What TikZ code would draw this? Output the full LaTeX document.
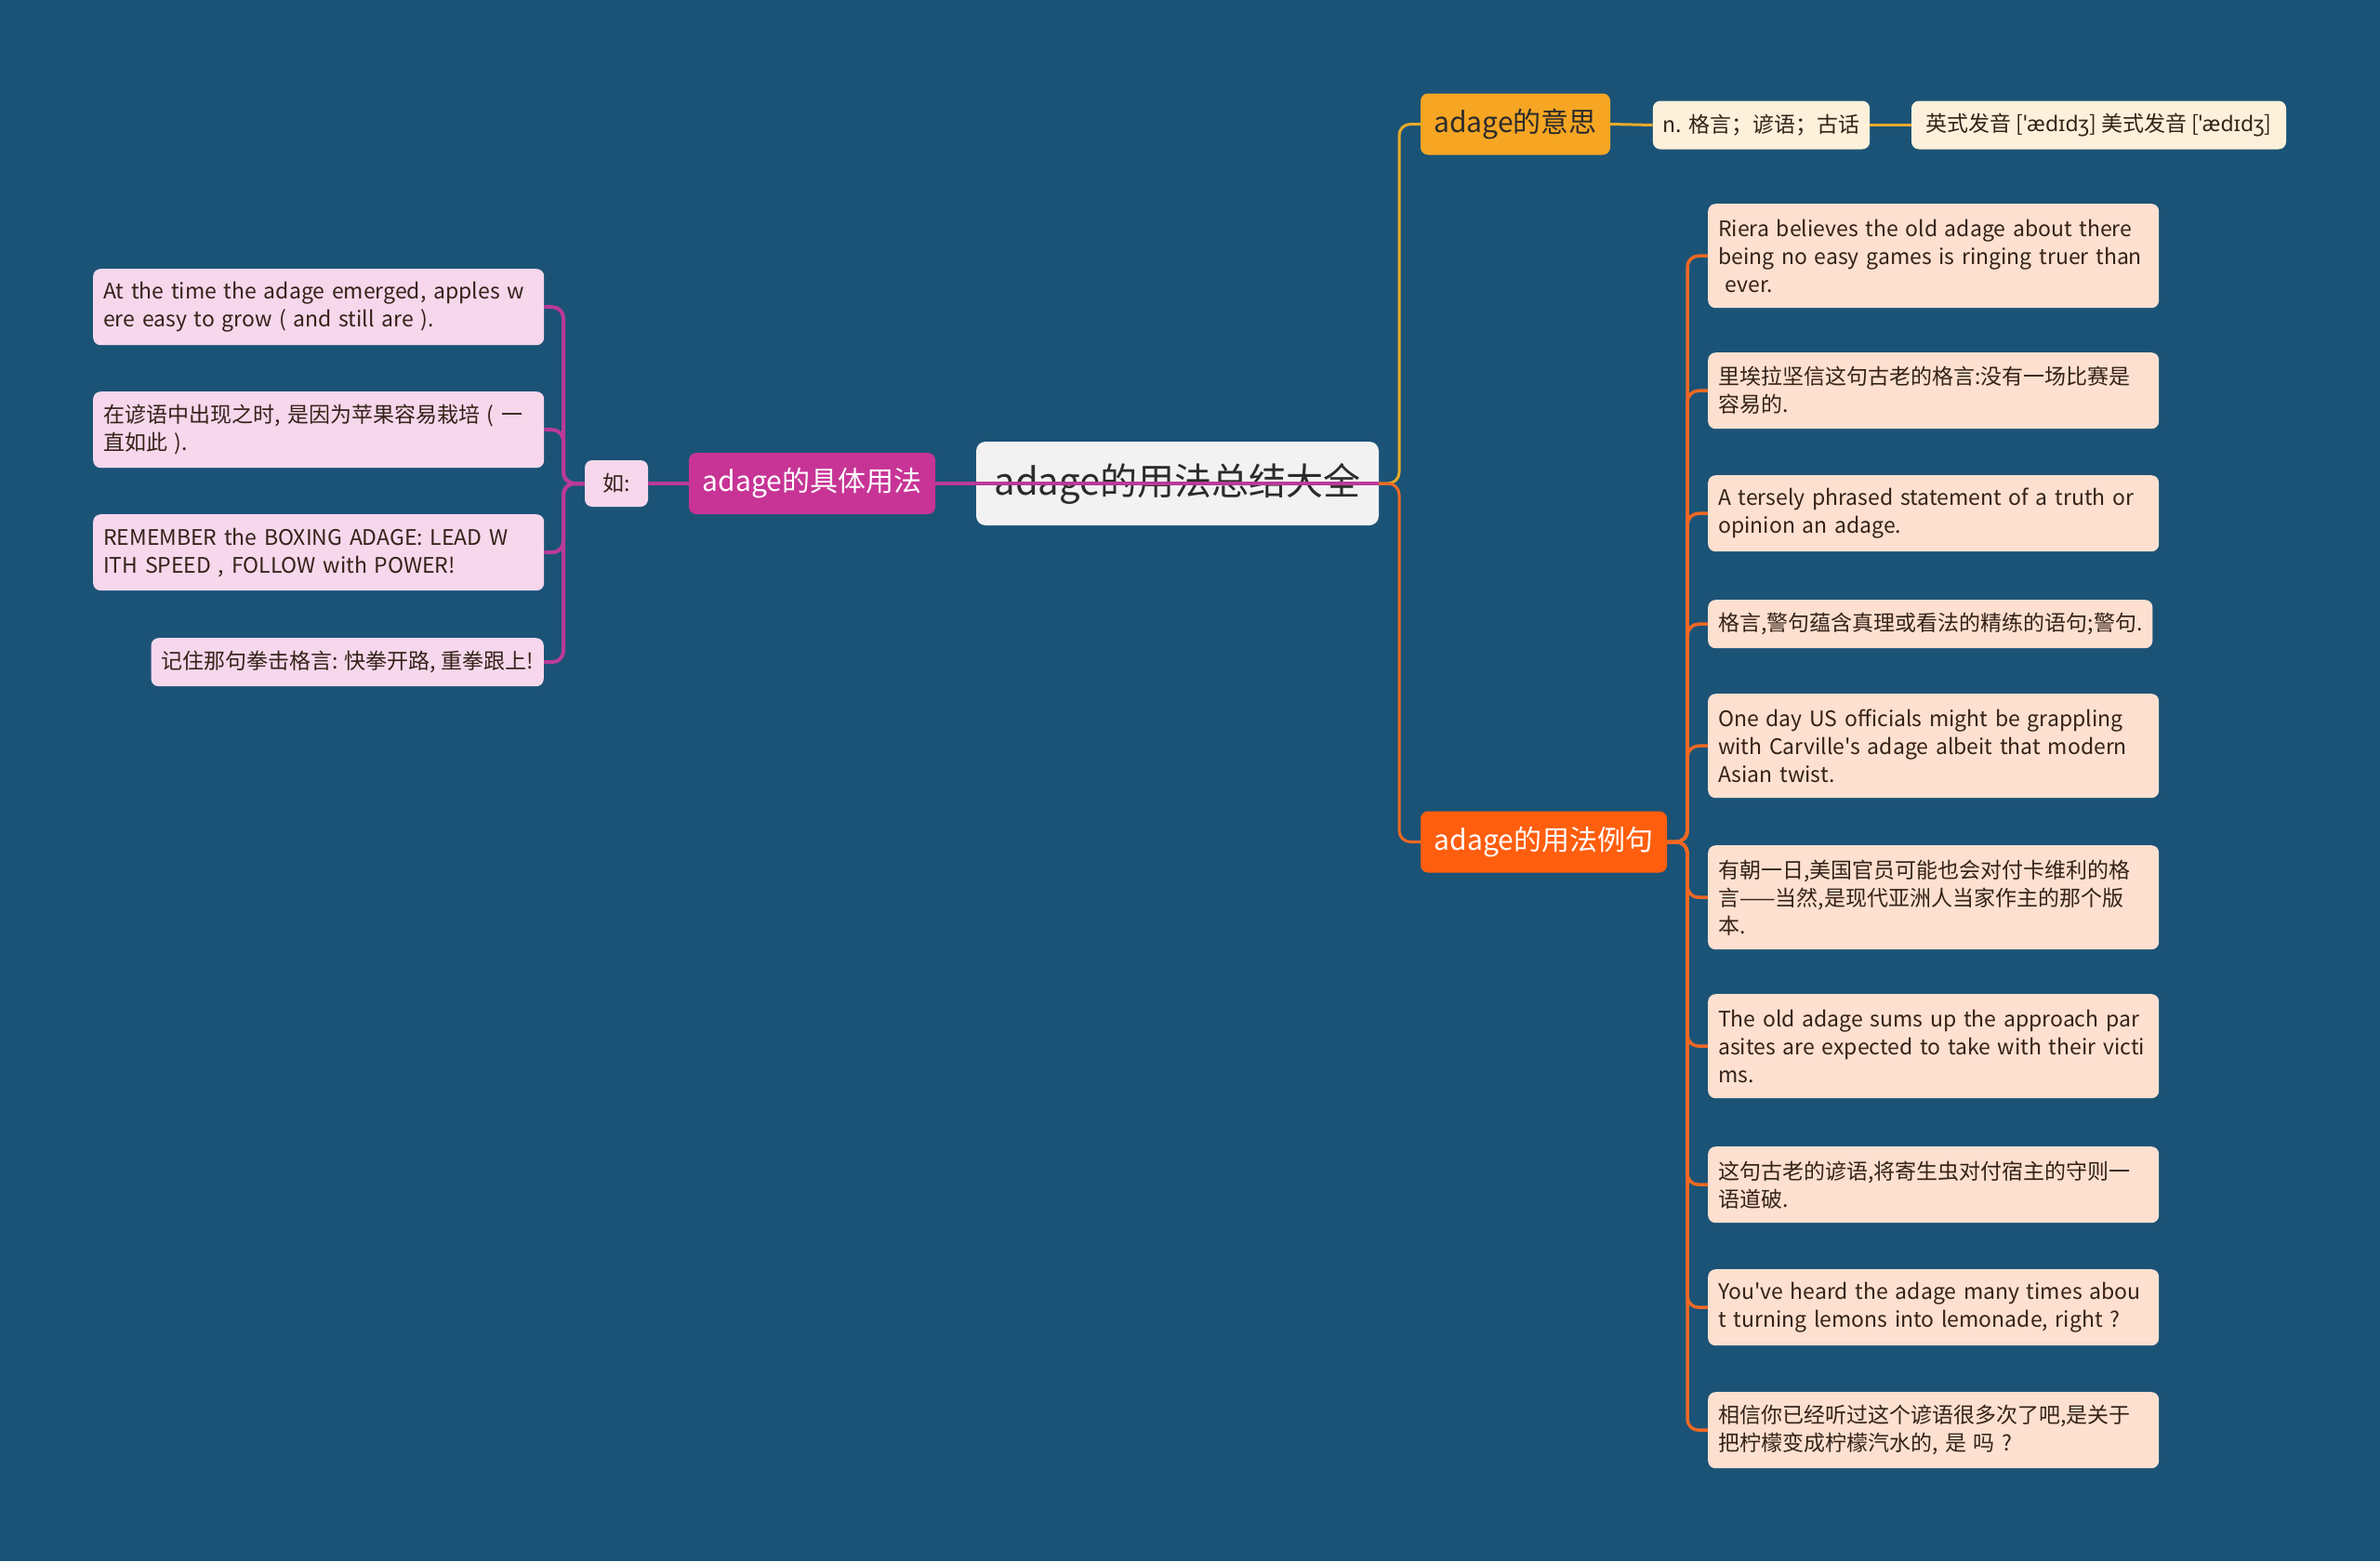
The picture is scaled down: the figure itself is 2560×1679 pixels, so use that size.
\documentclass[tikz,border=0pt]{standalone}
\usepackage{fontspec}
\usepackage{xcolor}
\usepackage{tikz}
\usetikzlibrary{positioning}
\setmainfont{Noto Sans CJK SC}[Ligatures=TeXOff]
\newfontfamily\ipafont{Noto Sans}

\definecolor{bgblue}{RGB}{27,83,119}
\definecolor{rootgray}{RGB}{242,242,242}
\definecolor{magbox}{RGB}{199,52,150}
\definecolor{magline}{RGB}{186,58,152}
\definecolor{pinkbox}{RGB}{246,215,236}
\definecolor{ambox}{RGB}{246,166,35}
\definecolor{ambline}{RGB}{232,170,42}
\definecolor{creambox}{RGB}{253,241,219}
\definecolor{redbox}{RGB}{255,94,14}
\definecolor{redline}{RGB}{240,104,35}
\definecolor{peachbox}{RGB}{253,224,208}
\definecolor{inkdark}{RGB}{43,43,43}
\definecolor{inkbrown}{RGB}{52,34,24}

\begin{document}
\begin{tikzpicture}[
  x=1pt,y=-1pt,
  every node/.style={inner sep=0pt},
  rootbox/.style={fill=rootgray,rounded corners=10pt,minimum width=433pt,minimum height=90pt,font=\fontsize{40}{48}\selectfont,text=inkdark},
  mainbox/.style={rounded corners=8pt,minimum width=265pt,minimum height=66pt,font=\fontsize{30}{36}\selectfont},
  leafbox/.style={rounded corners=8pt,inner xsep=11pt,align=left,font=\fontsize{23}{30}\selectfont,text=inkbrown},
  wide/.style={text width=463pt},
  onel/.style={minimum height=52pt},
  twol/.style={minimum height=82pt},
  threel/.style={minimum height=112pt},
  magwire/.style={draw=magline,line width=4pt,rounded corners=12pt},
  ambwire/.style={draw=ambline,line width=3pt,rounded corners=12pt},
  redwire/.style={draw=redline,line width=3.5pt,rounded corners=12pt}
]
\fill[bgblue] (0,0) rectangle (2560,1679);
\useasboundingbox (0,0) rectangle (2560,1679);

% centre and first level
\node[rootbox] (root) at (1266.5,520) {adage的用法总结大全};
\node[mainbox,fill=magbox,text=white] (usage) at (873.5,520) {adage的具体用法};
\node[leafbox,fill=pinkbox,minimum width=68pt,minimum height=50pt,inner xsep=0pt] (ru) at (663,520) {如:};
\node[mainbox,fill=ambox,text=inkdark,minimum width=204pt] (meaning) at (1630,133.5) {adage的意思};
\node[leafbox,onel,fill=creambox,minimum width=233pt] (gloss) at (1894.5,134.5) {n. 格言；谚语；古话};
\node[leafbox,onel,fill=creambox,minimum width=403pt] (sound) at (2257.5,134.5) {英式发音 [{\ipafont ˈædɪdʒ}] 美式发音 [{\ipafont ˈædɪdʒ}]};
\node[mainbox,fill=redbox,text=white] (example) at (1660.5,905.5) {adage的用法例句};

% left leaves
\node[leafbox,wide,twol,fill=pinkbox,anchor=north west] (l1) at (100,289) {At the time the adage emerged, apples w\\ere easy to grow ( and still are ).};
\node[leafbox,wide,twol,fill=pinkbox,anchor=north west] (l2) at (100,421) {在谚语中出现之时, 是因为苹果容易栽培 ( 一\\直如此 ).};
\node[leafbox,wide,twol,fill=pinkbox,anchor=north west] (l3) at (100,553) {REMEMBER the BOXING ADAGE: LEAD W\\ITH SPEED , FOLLOW with POWER!};
\node[leafbox,onel,fill=pinkbox,anchor=north east] (l4) at (585,686) {记住那句拳击格言: 快拳开路, 重拳跟上!};

% right leaves
\node[leafbox,wide,threel,fill=peachbox,anchor=north west] (r1) at (1837,219) {Riera believes the old adage about there\\being no easy games is ringing truer than\\~ever.};
\node[leafbox,wide,twol,fill=peachbox,anchor=north west] (r2) at (1837,379) {里埃拉坚信这句古老的格言:没有一场比赛是\\容易的.};
\node[leafbox,wide,twol,fill=peachbox,anchor=north west] (r3) at (1837,511) {A tersely phrased statement of a truth or\\opinion an adage.};
\node[leafbox,onel,fill=peachbox,anchor=north west] (r4) at (1837,645) {格言,警句蕴含真理或看法的精练的语句;警句.};
\node[leafbox,wide,threel,fill=peachbox,anchor=north west] (r5) at (1837,746) {One day US officials might be grappling\\with Carville's adage albeit that modern\\Asian twist.};
\node[leafbox,wide,threel,fill=peachbox,anchor=north west] (r6) at (1837,909) {有朝一日,美国官员可能也会对付卡维利的格\\言——当然,是现代亚洲人当家作主的那个版\\本.};
\node[leafbox,wide,threel,fill=peachbox,anchor=north west] (r7) at (1837,1069) {The old adage sums up the approach par\\asites are expected to take with their victi\\ms.};
\node[leafbox,wide,twol,fill=peachbox,anchor=north west] (r8) at (1837,1233) {这句古老的谚语,将寄生虫对付宿主的守则一\\语道破.};
\node[leafbox,wide,twol,fill=peachbox,anchor=north west] (r9) at (1837,1365) {You've heard the adage many times abou\\t turning lemons into lemonade, right ?};
\node[leafbox,wide,twol,fill=peachbox,anchor=north west] (r10) at (1837,1497) {相信你已经听过这个谚语很多次了吧,是关于\\把柠檬变成柠檬汽水的, 是 吗 ?};

\coordinate (lfork) at (606,520);
\coordinate (rfork) at (1505,520);
\coordinate (efork) at (1815,905.5);

% connectors
\draw[ambwire] (root.east) -- (rfork) |- (meaning.west);
\draw[redwire,line width=3pt] (root.east) -- (rfork) |- (example.west);
\draw[ambwire] (meaning.east) -- (gloss.west);
\draw[ambwire] (gloss.east) -- (sound.west);
\foreach \n in {r1,r2,r3,r4,r5,r6,r7,r8,r9,r10}
  \draw[redwire] (example.east) -- (efork) |- (\n.west);
\draw[magwire] (usage.west) -- (ru.east);
\foreach \n in {l1,l2,l3,l4}
  \draw[magwire] (ru.west) -- (lfork) |- (\n.east);
\draw[magwire] (root.east) -- (usage.east);
\end{tikzpicture}
\end{document}
